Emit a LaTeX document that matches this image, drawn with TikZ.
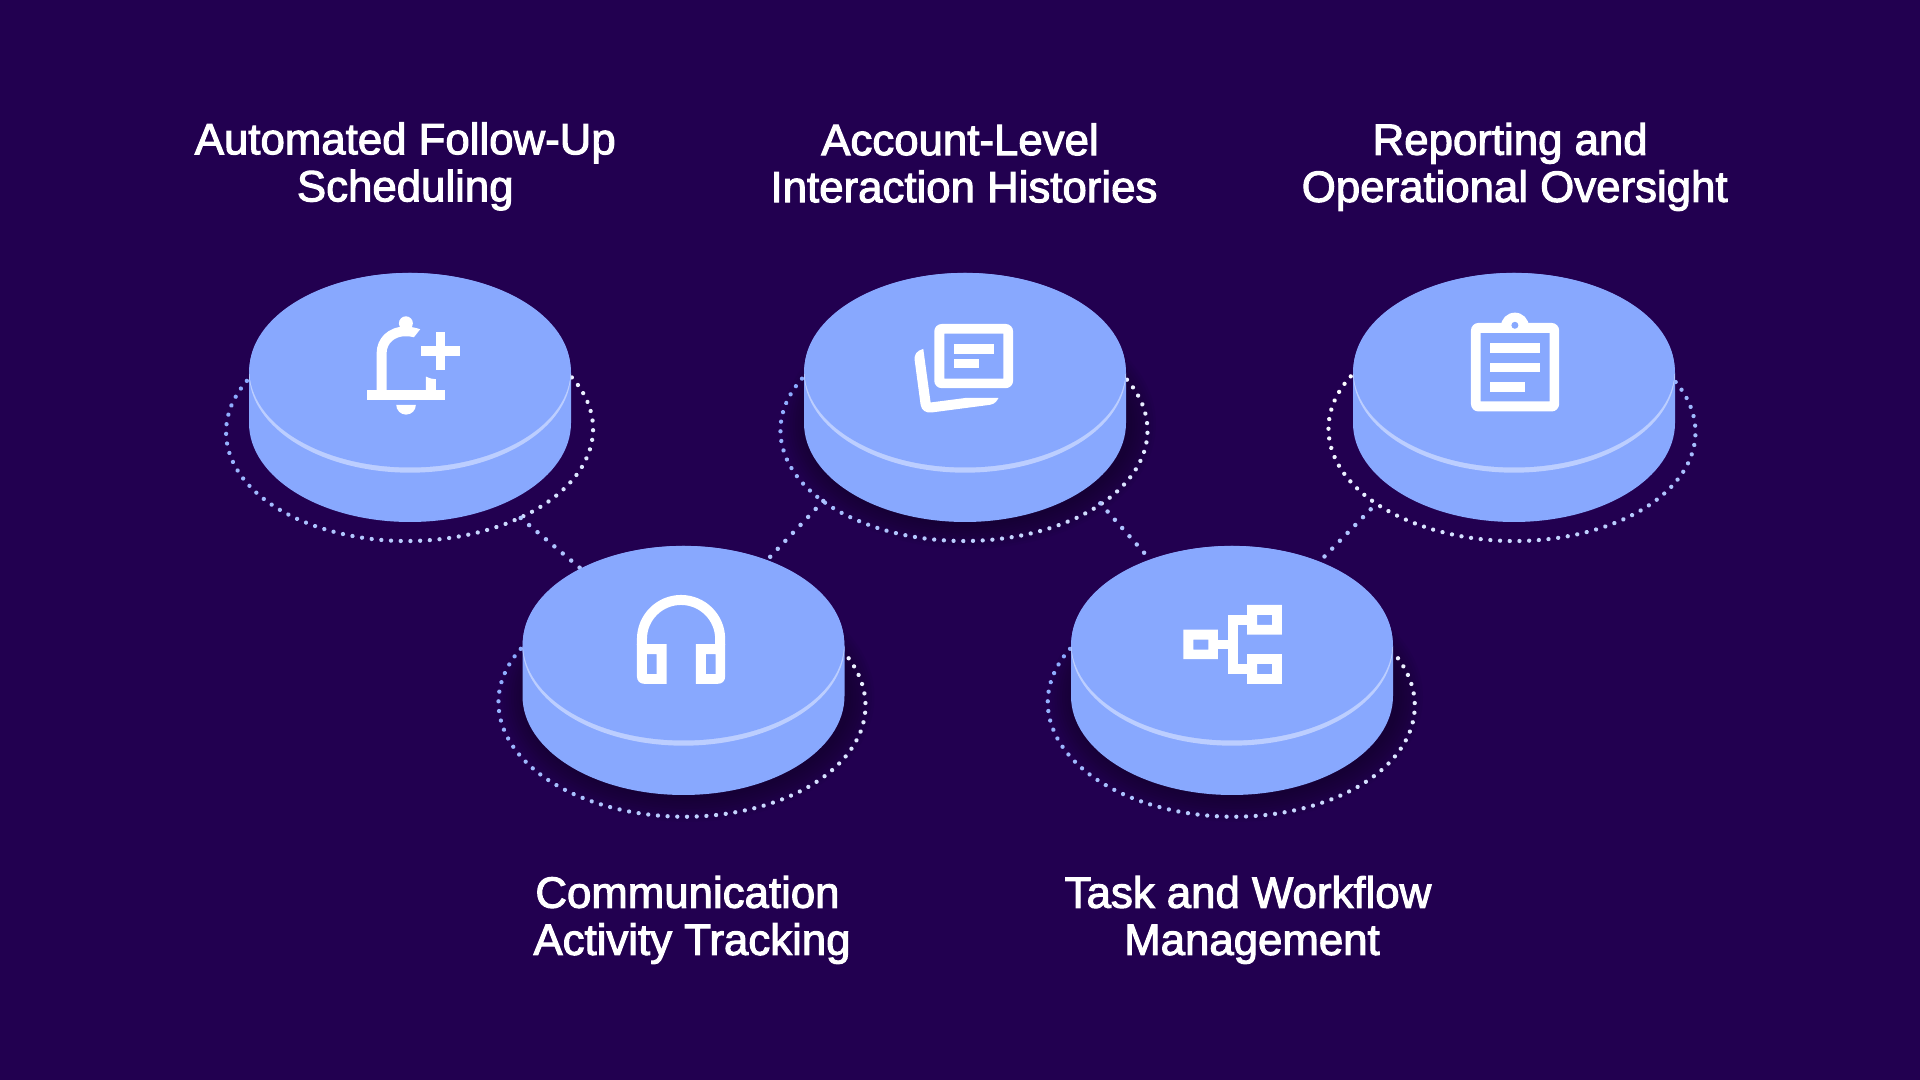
\documentclass[tikz,border=0pt]{standalone}
\usepackage{fontspec}
\setmainfont[FakeBold=2.4]{Liberation Sans}
\usetikzlibrary{decorations.markings}
\definecolor{bgc}{RGB}{34,0,80}
\definecolor{discc}{RGB}{136,168,254}
\definecolor{rimc}{RGB}{188,206,255}
\definecolor{linkc}{RGB}{175,196,255}
\tikzset{
  x=0.01cm,y=-0.01cm,
  label/.style={text=white,align=center,font=\fontsize{12.45pt}{13.4pt}\selectfont,inner sep=0pt},
  linkdots/.style={draw=linkc,line width=0.045cm,line cap=round,dash pattern=on 0cm off 0.11cm},
  ringforward/.style={postaction={decorate,decoration={markings,
    mark=between positions 0 and 1 step 0.097cm with {%
      \pgfmathsetmacro\pct{min(100,\pgfkeysvalueof{/pgf/decoration/mark info/sequence number}*1.4)}%
      \fill[white!\pct!discc] (0,0) circle (0.0215cm);}}}},
  ringbackward/.style={postaction={decorate,decoration={markings,
    mark=between positions 0 and 1 step 0.097cm with {%
      \pgfmathsetmacro\pct{max(0,100-\pgfkeysvalueof{/pgf/decoration/mark info/sequence number}*1.4)}%
      \fill[white!\pct!discc] (0,0) circle (0.0215cm);}}}},
}
% ring: cx, cy, y radius, rotation, style
\newcommand{\ringpath}[5]{%
  \begin{scope}[shift={(#1,#2)},rotate=#4]
    \path[#5] ({183.5*cos(208)},{#3*sin(208)}) arc[start angle=208,end angle=-28,x radius=183.5,y radius=#3];
  \end{scope}}
\newcommand{\disc}[3]{% name, cx, shift y
  \begin{scope}[shift={(#2,#3)}]
    \coordinate (#1) at (0,372);
    \fill[discc] (-161,372.85) -- (-161,423) arc[start angle=180,end angle=0,x radius=161,y radius=99] -- (161,372.85) -- cycle;
    \fill[discc] (0,372.85) ellipse[x radius=161,y radius=99.85];
    \begin{scope}
      \clip (-170,375) rectangle (170,480);
      \fill[rimc] (0,372.85) ellipse[x radius=161,y radius=99.85];
    \end{scope}
    \fill[discc] (0,370.2) ellipse[x radius=160.6,y radius=97.3];
  \end{scope}}
\newcommand{\shadowat}[2]{%
  \foreach \i in {1,...,10}{
    \fill[black,opacity=0.03] (#1+4,#2) ellipse[x radius=161+\i*2.6,y radius=99+\i*2.6];
  }}
\begin{document}
\begin{tikzpicture}
\fill[bgc] (0,0) rectangle (1920,1080);
\useasboundingbox (0,0) rectangle (1920,1080);
% shadows
\shadowat{965}{424}
\shadowat{683.5}{697}
\shadowat{1232}{697}
% rings
\ringpath{409.6}{430.5}{110.5}{0.8}{ringforward}
\ringpath{964}{430.5}{110.5}{0}{ringforward}
\ringpath{1512}{430.5}{110.5}{-0.8}{ringbackward}
\ringpath{682}{704}{112.7}{-0.8}{ringforward}
\ringpath{1231.3}{704}{112.7}{-0.8}{ringforward}
% connector ends
\coordinate (ab) at (520.7,518);
\coordinate (ba) at (580,568);
\coordinate (bd) at (823.3,501);
\coordinate (db) at (770,557);
\coordinate (be) at (1100.3,503.3);
\coordinate (eb) at (1144.3,553);
\coordinate (ce) at (1370.7,509.3);
\coordinate (ec) at (1324.3,556.7);
\draw[linkdots] (ab) -- (ba);
\draw[linkdots] (bd) -- (db);
\draw[linkdots] (be) -- (eb);
\draw[linkdots] (ce) -- (ec);
% discs
\disc{a}{410}{0}
\disc{b}{965}{0}
\disc{c}{1514}{0}
\disc{d}{683.5}{273}
\disc{e}{1232}{273}
% bell icon
\begin{scope}[shift={(340,300)},x=0.00333cm,y=-0.00333cm]
  \fill[white] (80,270) rectangle (317,300);
  \fill[white] (228,315) arc[start angle=0,end angle=180,radius=29.5] -- cycle;
  \fill[white] (198,70) circle (21);
  \fill[white] (110,275) -- (110,160) .. controls (110,115) and (145,80) .. (195,80) .. controls (210,80) and (228,83) .. (241,88) -- (222,112) .. controls (212,110) and (205,108) .. (195,109) .. controls (165,109) and (140,130) .. (140,160) -- (140,275) -- cycle;
  \fill[white] (258,230) .. controls (270,236) and (280,238) .. (288,238) -- (288,275) -- (258,275) -- cycle;
  \fill[white] (288,95) rectangle (317,210);
  \fill[white] (243,137) rectangle (361,167);
\end{scope}
% cards icon
\begin{scope}[shift={(890,300)},x=0.00333cm,y=-0.00333cm]
  \fill[white,even odd rule,rounded corners=0.075cm] (133,72) rectangle (370,265) [sharp corners] (163,101) rectangle (341,236);
  \fill[white] (192,132) rectangle (311,161);
  \fill[white] (192,176) rectangle (266,205);
  \fill[white] (100,147) .. controls (80,152) and (72,165) .. (74,180) -- (92,315) .. controls (95,332) and (108,340) .. (125,338) -- (300,315) .. controls (315,313) and (322,303) .. (326,294) -- (230,294) -- (122,308) -- cycle;
\end{scope}
% clipboard icon
\begin{scope}[shift={(1445,300)},x=0.00333cm,y=-0.00333cm]
  \fill[white] (168,80) arc[start angle=180,end angle=360,radius=42] -- cycle;
  \fill[white,even odd rule,rounded corners=0.075cm] (78,69) rectangle (343,335) [sharp corners] (107,99) rectangle (314,305);
  \fill[discc] (210,76) circle (10.5);
  \fill[white] (136,129) rectangle (284,158);
  \fill[white] (136,188) rectangle (284,217);
  \fill[white] (136,246) rectangle (240,276);
\end{scope}
% headset icon
\begin{scope}[shift={(615,580)},x=0.00333cm,y=-0.00333cm]
  \draw[white,line width=0.1cm] (81,195) -- (81,177.5) arc[start angle=180,end angle=360,radius=117.5] -- (316,195);
  \fill[white,even odd rule] (66,193) -- (155,193) -- (155,312) -- (88,312) .. controls (75,312) and (66,303) .. (66,290) -- cycle (96,223) rectangle (125,283);
  \fill[white,even odd rule] (331,193) -- (243,193) -- (243,312) -- (309,312) .. controls (322,312) and (331,303) .. (331,290) -- cycle (273,223) rectangle (302,283);
\end{scope}
% workflow icon
\begin{scope}[shift={(1165,590)},x=0.00333cm,y=-0.00333cm]
  \fill[white,even odd rule] (55,119) rectangle (159,208) (85,149) rectangle (130,179);
  \fill[white,even odd rule] (247,45) rectangle (351,134) (277,75) rectangle (322,105);
  \fill[white,even odd rule] (247,193) rectangle (351,282) (277,222) rectangle (322,253);
  \fill[white] (159,149) rectangle (190,178);
  \fill[white] (188,75) rectangle (218,253);
  \fill[white] (188,75) rectangle (249,105);
  \fill[white] (188,223) rectangle (249,253);
\end{scope}
% labels
\node[label] (la) at (405.3,166.5) {Automated Follow-Up\\Scheduling};
\node[label] (lb) at (964,163) {Account-Level\hspace*{0.08cm}\\Interaction Histories};
\node[label] (lc) at (1514.7,167) {Reporting and\hspace*{0.09cm}\\Operational Oversight};
\node[label] (ld) at (692,920) {Communication\hspace*{0.09cm}\\Activity Tracking};
\node[label] (le) at (1252,920) {Task and Workflow\hspace*{0.08cm}\\Management};
\end{tikzpicture}
\end{document}
